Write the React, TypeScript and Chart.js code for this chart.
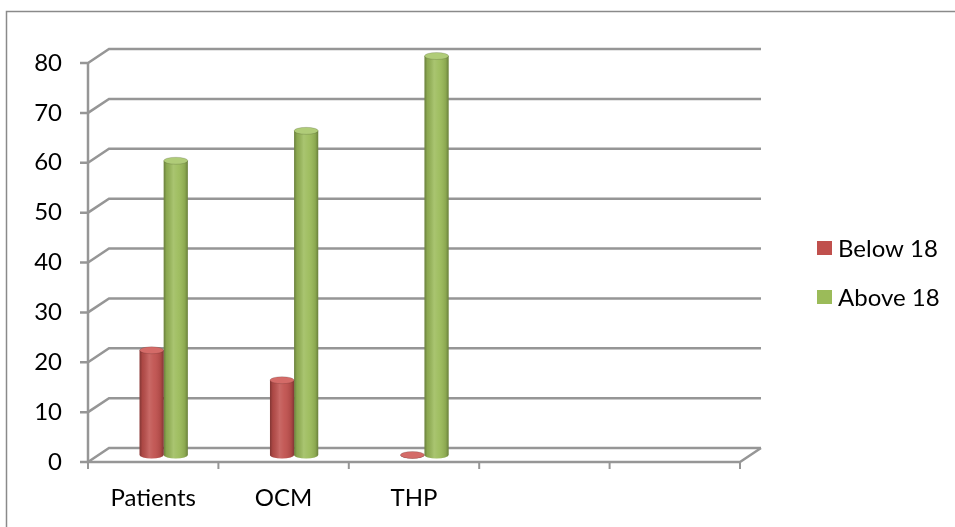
import { useEffect, useRef } from "react";
import { Chart, registerables } from "chart.js";

Chart.register(...registerables);

// Chart data
const categories = ["Patients", "OCM", "THP", "", ""];
const below18 = [21, 15, 0, null, null];
const above18 = [59, 65, 80, null, null];
const seriesNames = ["Below 18", "Above 18"];
const seriesColors = ["#C0504D", "#9BBB59"];
const capColors = ["#D46B68", "#B0CC78"];
const yMin = 0;
const yMax = 80;
const yStep = 10;

// Perspective offset of the back wall relative to the front axes
const DEPTH_X = 21;
const DEPTH_Y = -14;
const GRID_COLOR = "#969696";
const FONT = "Lato, 'Open Sans', sans-serif";
const FONT_SIZE = 24;

const wallPlugin = {
  id: "wall3d",
  beforeDatasetsDraw(chart: any) {
    const { ctx, chartArea: a, scales } = chart;
    const y = scales.y;
    ctx.save();
    ctx.strokeStyle = GRID_COLOR;
    ctx.lineWidth = 2.5;
    ctx.lineJoin = "miter";
    y.ticks.forEach((t: any) => {
      const py = y.getPixelForValue(t.value);
      ctx.beginPath();
      ctx.moveTo(a.left - 8, py);
      ctx.lineTo(a.left, py);
      ctx.lineTo(a.left + DEPTH_X, py + DEPTH_Y);
      ctx.lineTo(a.right + DEPTH_X, py + DEPTH_Y);
      ctx.stroke();
    });
    // front axes
    ctx.beginPath();
    ctx.moveTo(a.left, a.top);
    ctx.lineTo(a.left, a.bottom);
    ctx.lineTo(a.right, a.bottom);
    ctx.lineTo(a.right + DEPTH_X, a.bottom + DEPTH_Y);
    ctx.stroke();
    // category tick marks
    const n = categories.length;
    ctx.lineWidth = 2;
    for (let i = 0; i <= n; i++) {
      const px = a.left + ((a.right - a.left) * i) / n;
      ctx.beginPath();
      ctx.moveTo(px, a.bottom);
      ctx.lineTo(px, a.bottom + 7);
      ctx.stroke();
    }
    ctx.restore();
    // bars stand halfway into the depth of the floor
    ctx.save();
    ctx.translate(DEPTH_X / 2, DEPTH_Y / 2);
  },
  afterDatasetsDraw(chart: any) {
    const { ctx } = chart;
    const ry = 3.5;
    chart.data.datasets.forEach((ds: any, di: number) => {
      const meta = chart.getDatasetMeta(di);
      meta.data.forEach((el: any, i: number) => {
        if (ds.data[i] === null || ds.data[i] === undefined) return;
        const { x, y, base, width } = el.getProps(["x", "y", "base", "width"], true);
        const left = x - width / 2;
        // rounded bottom
        ctx.beginPath();
        ctx.ellipse(x, base, width / 2, ry, 0, 0, Math.PI);
        ctx.fillStyle = seriesColors[di];
        ctx.fill();
        // cylinder shading
        const g = ctx.createLinearGradient(left, 0, left + width, 0);
        g.addColorStop(0, "rgba(0,0,0,0.32)");
        g.addColorStop(0.12, "rgba(0,0,0,0.1)");
        g.addColorStop(0.4, "rgba(255,255,255,0.14)");
        g.addColorStop(0.6, "rgba(255,255,255,0.06)");
        g.addColorStop(0.88, "rgba(0,0,0,0.1)");
        g.addColorStop(1, "rgba(0,0,0,0.32)");
        ctx.fillStyle = g;
        ctx.fillRect(left, y, width, base - y);
        ctx.beginPath();
        ctx.ellipse(x, base, width / 2, ry, 0, 0, Math.PI);
        ctx.fill();
        // top cap
        ctx.beginPath();
        ctx.ellipse(x, y, width / 2, ry, 0, 0, Math.PI * 2);
        ctx.fillStyle = capColors[di];
        ctx.fill();
        ctx.strokeStyle = "rgba(0,0,0,0.18)";
        ctx.lineWidth = 0.8;
        ctx.stroke();
      });
    });
    ctx.restore();
  },
  afterDraw(chart: any) {
    const { ctx } = chart;
    ctx.save();
    // outer frame
    ctx.strokeStyle = "#8a8a8a";
    ctx.lineWidth = 1.5;
    ctx.beginPath();
    ctx.moveTo(6.5, 527);
    ctx.lineTo(6.5, 11.5);
    ctx.lineTo(955, 11.5);
    ctx.stroke();
    // legend
    ctx.font = `${FONT_SIZE}px ${FONT}`;
    ctx.textBaseline = "middle";
    ctx.textAlign = "left";
    seriesNames.forEach((name, i) => {
      const cy = 248 + i * 49;
      ctx.fillStyle = seriesColors[i];
      ctx.fillRect(817, cy - 7, 15, 14);
      ctx.fillStyle = "#000";
      ctx.fillText(name, 838, cy + 1);
    });
    ctx.restore();
  },
};

export default function App() {
  const ref = useRef<HTMLCanvasElement | null>(null);
  useEffect(() => {
    if (!ref.current) return;
    const chart = new Chart(ref.current, {
      type: "bar",
      data: {
        labels: categories,
        datasets: [
          { label: seriesNames[0], data: below18, backgroundColor: seriesColors[0], clip: false as any },
          { label: seriesNames[1], data: above18, backgroundColor: seriesColors[1], clip: false as any },
        ],
      },
      options: {
        animation: false,
        responsive: false,
        categoryPercentage: 0.37,
        barPercentage: 1,
        layout: { padding: { left: 0, top: 63, right: 215, bottom: 0 } },
        plugins: { legend: { display: false }, tooltip: { enabled: false } },
        scales: {
          x: {
            grid: { display: false },
            border: { display: false },
            ticks: { color: "#000", font: { family: FONT, size: FONT_SIZE }, padding: 14, maxRotation: 0 },
            afterFit: (s: any) => {
              s.height = 65;
            },
          },
          y: {
            min: yMin,
            max: yMax,
            grid: { display: false },
            border: { display: false },
            ticks: { stepSize: yStep, color: "#000", font: { family: FONT, size: FONT_SIZE }, padding: 18 },
            afterFit: (s: any) => {
              s.width = 88;
            },
          },
        },
      },
      plugins: [wallPlugin],
    });
    return () => chart.destroy();
  }, []);
  return (
    <div style={{ position: "fixed", left: 0, top: 0, width: 955, height: 527, background: "#fff" }}>
      <canvas ref={ref} width={955} height={527} style={{ width: 955, height: 527 }} />
    </div>
  );
}
